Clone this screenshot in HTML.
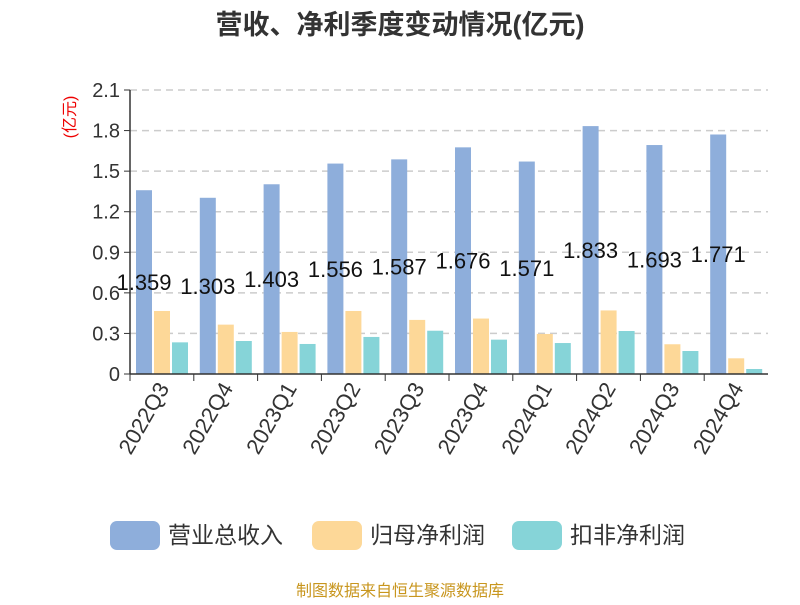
<!DOCTYPE html>
<html><head><meta charset="utf-8"><style>
body{margin:0;background:#fff;font-family:"Liberation Sans","Noto Sans CJK SC",sans-serif}
</style></head><body>
<svg id="c" width="800" height="600" xmlns="http://www.w3.org/2000/svg">
<text x="400" y="34" text-anchor="middle" font-size="27" font-weight="bold" fill="#333" font-family="Liberation Sans,Noto Sans CJK SC,sans-serif">营收、净利季度变动情况(亿元)</text>
<text transform="translate(75,117) rotate(-90)" text-anchor="middle" font-size="16" fill="#e00" font-family="Liberation Sans,Noto Sans CJK SC,sans-serif">(亿元)</text>
<g id="grid"></g><g id="bars"></g><g id="axes"></g>
<g font-size="23" fill="#333" font-family="Liberation Sans,Noto Sans CJK SC,sans-serif">
<rect x="110" y="521" width="50" height="29" rx="7" fill="#8eaedb"/>
<text x="168" y="543">营业总收入</text>
<rect x="312" y="521" width="50" height="29" rx="7" fill="#fdd898"/>
<text x="370" y="543">归母净利润</text>
<rect x="512" y="521" width="50" height="29" rx="7" fill="#86d4d8"/>
<text x="570" y="543">扣非净利润</text>
</g>
<text x="400" y="596" text-anchor="middle" font-size="16" fill="#c8961e" font-family="Liberation Sans,Noto Sans CJK SC,sans-serif">制图数据来自恒生聚源数据库</text>
</svg>
<script>
const categories=["2022Q3","2022Q4","2023Q1","2023Q2","2023Q3","2023Q4","2024Q1","2024Q2","2024Q3","2024Q4"];
const revenue=[1.359,1.303,1.403,1.556,1.587,1.676,1.571,1.833,1.693,1.771];
const netProfit=[0.466,0.365,0.311,0.466,0.40,0.41,0.296,0.47,0.22,0.116];
const deductedProfit=[0.234,0.244,0.222,0.274,0.32,0.254,0.229,0.318,0.17,0.037];
const yTicks=["0","0.3","0.6","0.9","1.2","1.5","1.8","2.1"];
const NS="http://www.w3.org/2000/svg";
const X0=130,X1=768,Y0=374,Y1=90,YMAX=2.1;
const y=v=>Y0-(v/YMAX)*(Y0-Y1);
const bw=(X1-X0)/categories.length;
function el(t,a,p){const e=document.createElementNS(NS,t);for(const k in a)e.setAttribute(k,a[k]);p.appendChild(e);return e;}
const grid=document.getElementById('grid'),bars=document.getElementById('bars'),axes=document.getElementById('axes');
yTicks.forEach(t=>{const v=parseFloat(t),yy=y(v);
 if(v>0){const g=el('line',{x1:X0,x2:X1,y1:yy,y2:yy,stroke:'#ccc','stroke-dasharray':'7,5','stroke-width':1.5},grid);
 
 }
 const tk=el('line',{x1:X0-6,x2:X0,y1:yy,y2:yy,stroke:'#333'},axes);
 
 
 const tx=el('text',{x:X0-10,y:yy+7,'text-anchor':'end','font-size':20,fill:'#333'},axes);tx.textContent=t;
 
 
});
const series=[[revenue,'#8eaedb','revenue'],[netProfit,'#fdd898','net-profit'],[deductedProfit,'#86d4d8','deducted-profit']];
categories.forEach((c,i)=>{
 const gx=X0+i*bw;
 series.forEach((s,j)=>{const v=s[0][i];const bx=gx+6+j*18;
  const r=el('rect',{x:bx,y:y(v),width:16,height:Y0-y(v),fill:s[1]},bars);
  
  
 });
 const v=revenue[i];
 const lb=el('text',{x:gx+14,y:(y(v)+Y0)/2+8,'text-anchor':'middle','font-size':22,fill:'#111'},bars);lb.textContent=v.toFixed(3);
 
 
 const tk=el('line',{x1:gx,x2:gx,y1:Y0,y2:Y0+7,stroke:'#333'},axes);
 
 
 const cx=gx+bw/2+8;
 const xl=el('text',{x:cx,y:Y0+14,'text-anchor':'end','font-size':22,fill:'#333',transform:`rotate(-60 ${cx} ${Y0+14})`},axes);xl.textContent=c;
 
 
});
const ax=el('line',{x1:X0,x2:X1,y1:Y0,y2:Y0,stroke:'#333','stroke-width':1.5},axes);


const ay=el('line',{x1:X0,x2:X0,y1:Y1,y2:Y0,stroke:'#333','stroke-width':1.5},axes);


</script>
</body></html>
